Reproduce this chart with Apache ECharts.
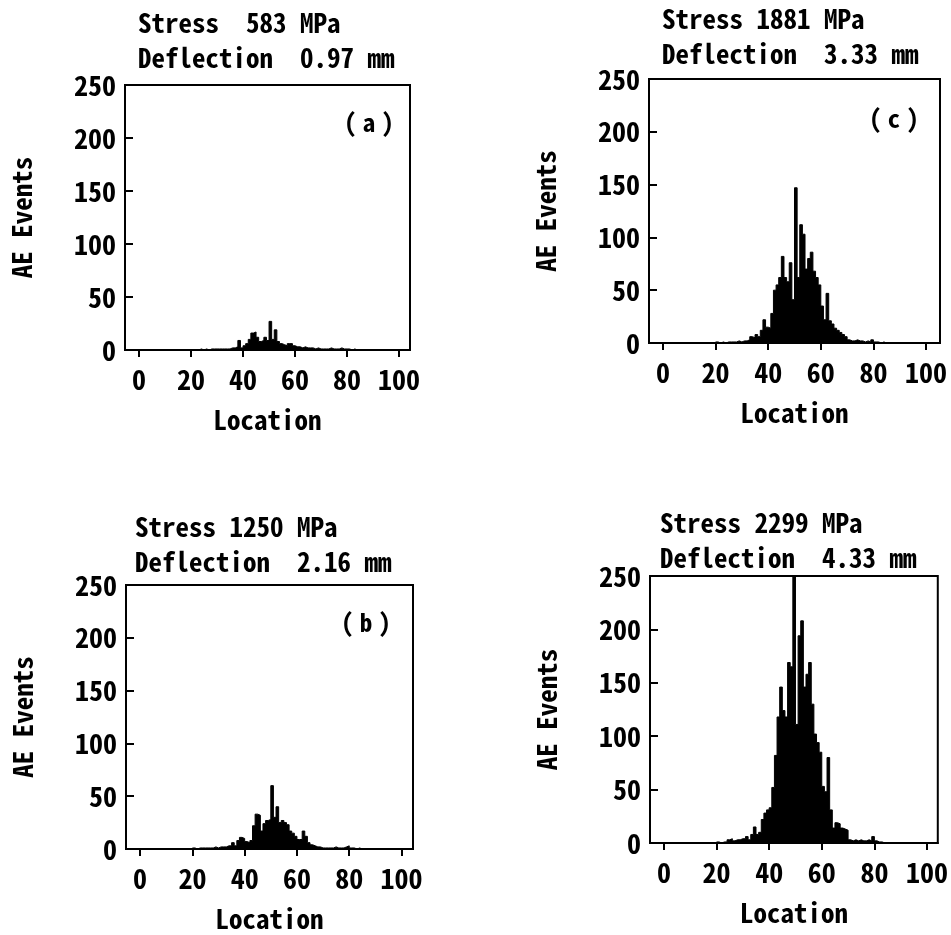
<!DOCTYPE html>
<html>
<head>
<meta charset="utf-8">
<script src="https://cdn.jsdelivr.net/npm/echarts@6/dist/echarts.min.js"></script>
<style>
html,body{margin:0;padding:0;background:#fff;}
#chart{width:951px;height:935px;}
</style>
</head>
<body>
<div id="chart"></div>
<script>
// Histogram bins: first bin starts at location 20, bin width 1
const firstBin = 20;
const binWidth = 1;
const xTickValues = [0, 20, 40, 60, 80, 100];
const yTickLabels = [0, 50, 100, 150, 200, 250];

const panelTitles = [
  "Stress  583 MPa\nDeflection  0.97 mm",
  "Stress 1250 MPa\nDeflection  2.16 mm",
  "Stress 1881 MPa\nDeflection  3.33 mm",
  "Stress 2299 MPa\nDeflection  4.33 mm"
];
const panelTags = ["a", "b", "c", ""];

// AE events per bin (bins 20..89)
const eventsA = [
  0,0,0,1,0,1,0,1,1,1,
  1,1,1,1,1,2,2,3,9,2,
  4,6,10,16,17,12,8,9,12,9,
  27,10,19,8,6,5,4,6,6,4,
  3,3,2,3,2,2,2,1,2,1,
  1,1,1,2,1,1,1,2,1,1,
  1,0,1,0,0,0,0,0,0,0
];
const eventsB = [
  1,0,1,1,1,1,1,1,2,1,
  2,2,2,3,3,6,3,8,11,10,
  7,6,8,22,33,32,17,24,27,28,
  60,30,40,25,27,25,23,17,15,12,
  9,9,17,12,6,4,3,2,2,1,
  1,1,1,1,2,1,1,1,2,3,
  1,1,0,1,0,0,0,0,0,0
];
const eventsC = [
  1,0,1,0,1,1,1,1,2,1,
  2,2,3,6,5,8,6,12,22,15,
  14,28,50,55,62,82,62,58,76,41,
  147,62,112,103,70,80,86,68,62,55,
  35,22,47,21,18,14,12,10,8,6,
  3,2,2,3,2,2,1,2,1,3,
  1,1,0,1,0,0,0,0,0,0
];
const eventsD = [
  1,0,1,1,3,4,2,3,3,4,
  4,6,3,8,15,8,10,22,28,31,
  33,52,82,118,146,124,118,169,165,250,
  111,194,208,146,158,169,130,102,94,85,
  53,48,80,31,14,19,18,14,13,12,
  3,2,3,2,3,2,2,3,2,6,
  2,1,1,0,0,0,0,0,0,0
];

const panelData = [eventsA, eventsB, eventsC, eventsD];

const grids = [
  {left:125, top:85, width:285, height:265},
  {left:126, top:585, width:287, height:264},
  {left:649, top:79, width:291, height:264},
  {left:650, top:576, width:291, height:267}
];
const xRanges = [[-5.4,104.2],[-5.4,104.4],[-5.3,105.3],[-5.3,104.1]];
const titlePos = [[138,5],[135,509],[662,1],[660,505]];
const tagPos = [[369,122],[366,622],[894,118],[0,0]];

// pick a CJK monospace font (half-width Latin) if installed
function hasFont(name){
  const c = document.createElement('canvas').getContext('2d');
  const s = 'mmmmmiiiiilll0123';
  c.font = "40px monospace"; const a = c.measureText(s).width;
  c.font = "40px '" + name + "', monospace"; const b = c.measureText(s).width;
  c.font = "40px serif"; const a2 = c.measureText(s).width;
  c.font = "40px '" + name + "', serif"; const b2 = c.measureText(s).width;
  return a !== b || a2 !== b2;
}
let FONT, TITLE_SIZE, TICK_SIZE, TAG_SIZE;
if (hasFont('Noto Sans Mono CJK SC')) {
  FONT = "'Noto Sans Mono CJK SC', 'Liberation Mono', monospace"; TITLE_SIZE = 27; TICK_SIZE = 28; TAG_SIZE = 25;
} else {
  FONT = "'Liberation Mono', monospace"; TITLE_SIZE = 23; TICK_SIZE = 24; TAG_SIZE = 21;
}

const chart = echarts.init(document.getElementById('chart'));

// step-area histogram: each bin [start, start+binWidth) held at its value
function histPoints(arr){
  const pts = arr.map((v,k)=>[firstBin + k*binWidth, v]);
  pts.push([firstBin + arr.length*binWidth, 0]);
  return pts;
}

const option = {
  animation:false,
  backgroundColor:'#fff',
  title: panelTitles.map((t,i)=>({
    text:t, left:titlePos[i][0], top:titlePos[i][1], padding:0,
    textStyle:{fontFamily:FONT, fontWeight:'bold', fontSize:TITLE_SIZE, color:'#000', lineHeight:35}
  })),
  grid: grids.map(g=>Object.assign({show:true, borderColor:'#000', borderWidth:2, backgroundColor:'transparent', containLabel:false}, g)),
  xAxis: grids.map((g,i)=>({
    type:'value', gridIndex:i, min:xRanges[i][0], max:xRanges[i][1],
    name:'Location', nameLocation:'middle', nameGap:56,
    nameTextStyle:{fontFamily:FONT, fontWeight:'bold', fontSize:TITLE_SIZE, color:'#000'},
    axisLine:{show:true, onZero:false, lineStyle:{color:'#000', width:2}},
    axisTick:{show:true, inside:false, length:7, lineStyle:{color:'#000', width:2}, customValues:xTickValues},
    axisLabel:{show:true, margin:15, fontFamily:FONT, fontWeight:'bold', fontSize:TICK_SIZE, color:'#000', customValues:xTickValues},
    splitLine:{show:false}
  })),
  yAxis: grids.map((g,i)=>({
    type:'value', gridIndex:i, min:0, max:250, interval:50,
    name:'AE Events', nameLocation:'middle', nameGap:90, nameRotate:90,
    nameTextStyle:{fontFamily:FONT, fontWeight:'bold', fontSize:TITLE_SIZE, color:'#000'},
    axisLine:{show:true, onZero:false, lineStyle:{color:'#000', width:2}},
    axisTick:{show:true, inside:true, length:8, lineStyle:{color:'#000', width:2}},
    axisLabel:{show:true, margin:9, fontFamily:FONT, fontWeight:'bold', fontSize:TICK_SIZE, color:'#000',
      formatter:(v)=> yTickLabels.indexOf(v)>=0 ? String(v) : ''},
    splitLine:{show:false}
  })),
  series: panelData.map((arr,i)=>({
    type:'line', xAxisIndex:i, yAxisIndex:i,
    step:'end', symbol:'none', showSymbol:false,
    data: histPoints(arr),
    lineStyle:{color:'#000', width:1},
    areaStyle:{color:'#000', opacity:1, origin:'start'},
    clip:true
  })),
  graphic: panelTags.map((t,i)=>({
    type:'text', x:tagPos[i][0], y:tagPos[i][1],
    style:{
      text:'{p|(}{s| }{p|' + t + '}{s| }{p|)}',
      rich:{
        p:{fontFamily:FONT, fontWeight:'bold', fontSize:TAG_SIZE, color:'#000'},
        s:{fontFamily:FONT, fontSize:12, color:'#000'}
      },
      textAlign:'center', textVerticalAlign:'middle'
    }
  })).filter((g,i)=>panelTags[i])
};
chart.setOption(option);
</script>
</body>
</html>
